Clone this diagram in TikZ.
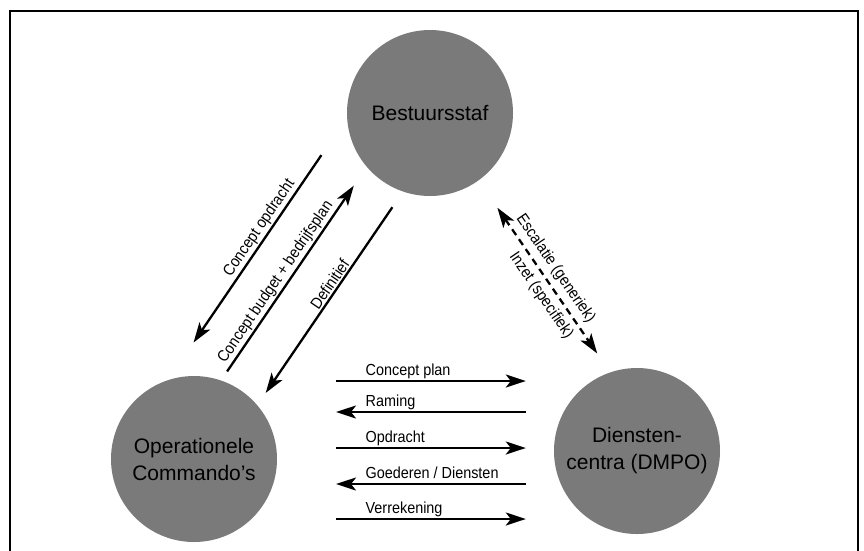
\documentclass[tikz,border=0pt]{standalone}
\usepackage{fontspec}
\setmainfont{Liberation Sans}
\newfontfamily\narrowsans[FakeStretch=0.9]{Liberation Sans}
\usetikzlibrary{arrows.meta, calc}
\definecolor{discgray}{HTML}{7A7A7A}

\begin{document}
\begin{tikzpicture}[x=1pt, y=-1pt,
  >={Stealth[length=20pt, width=13pt, inset=5pt]},
  unit/.style={circle, fill=discgray, minimum size=166pt, inner sep=0pt, align=center, font=\fontsize{21}{27}\selectfont},
  flow/.style={line width=2.3pt},
  lab/.style={font=\narrowsans\fontsize{16}{18}\selectfont, inner sep=1.5pt},
]
\useasboundingbox (0,0) rectangle (864,550);
\draw[line width=1.4pt] (10,560) -- (10,11) -- (858,11) -- (858,560);

% the three parties
\node[unit] (staf) at (430,113) {Bestuursstaf};
\node[unit] (ops) at (194,459) {Operationele\\Commando's};
\node[unit] (dmpo) at (637,451) {Diensten-\\centra (DMPO)};

% staf <-> commando's
\draw[flow, ->] ($(staf.center)!96pt!(ops.center)!66pt!-90:(ops.center)$) -- node[lab, above, sloped, pos=0.42] (l1) {Concept opdracht} ($(ops.center)!96pt!(staf.center)!66pt!90:(staf.center)$);
\draw[flow, ->] ($(ops.center)!91pt!(staf.center)!22pt!90:(staf.center)$) -- node[lab, above, sloped, pos=0.45] (l2) {Concept budget + bedrijfsplan} ($(staf.center)!103pt!(ops.center)!22pt!-90:(ops.center)$);
\draw[flow, ->] ($(staf.center)!99pt!(ops.center)!22pt!90:(ops.center)$) -- node[lab, above, sloped, pos=0.44] (l3) {Definitief} ($(ops.center)!95pt!(staf.center)!22pt!-90:(staf.center)$);

% staf <-> dienstencentra
\draw[flow, <->, dash pattern=on 7pt off 5pt] ($(staf.center)!116pt!(dmpo.center)!8pt!90:(dmpo.center)$) -- node[lab, above, sloped, pos=0.47, inner sep=5pt] (l4) {Escalatie (generiek)} node[lab, below, sloped, pos=0.55, inner sep=5pt] (l5) {Inzet (specifiek)} ($(dmpo.center)!104pt!(staf.center)!17pt!-90:(staf.center)$);

% commando's <-> dienstencentra
\foreach \txt/\dy/\tip [count=\i] in {Concept plan/-78/->, Raming/-47/<-, Opdracht/-11/->, {Goederen / Diensten}/25/<-, Verrekening/60/->}{
  \coordinate (s\i) at ([shift={(142,\dy)}]ops.center);
  \draw[flow, \tip] (s\i) -- node[lab, pos=0, anchor=base west, shift={(27,-6)}] (h\i) {\txt} ($(s\i -| dmpo.west)+(-28,0)$);
}
\end{tikzpicture}
\end{document}
